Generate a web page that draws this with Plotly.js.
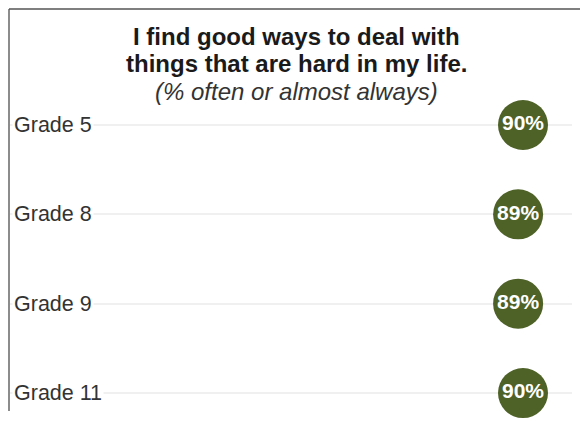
<!DOCTYPE html>
<html>
<head>
<meta charset="utf-8">
<script src="https://cdn.plot.ly/plotly-3.0.1.min.js"></script>
<style>html,body{margin:0;padding:0;background:#fff;}#chart{width:580px;height:421px;}</style>
</head>
<body>
<div id="chart"></div>
<script>
const grades = ["Grade 5", "Grade 8", "Grade 9", "Grade 11"];
const percents = [90, 89, 89, 90];
const titleLines = ["I find good ways to deal with", "things that are hard in my life.", "(% often or almost always)"];

const W = 580, H = 421;
const M = {l: 10, r: 8, t: 105, b: 0};
const plotW = W - M.l - M.r, plotH = H - M.t - M.b;
const px2paperX = px => (px - M.l) / plotW;
const px2paperY = py => (H - M.b - py) / plotH;
const FONT = "Liberation Sans, Arial, sans-serif";

const trace = {
  type: "scatter",
  mode: "markers+text",
  x: percents,
  y: grades,
  texttemplate: "%{x}%",
  textposition: "middle center",
  textfont: {family: FONT, size: 21, color: "#ffffff", weight: "bold"},
  marker: {size: 50, color: "#4e6127", line: {width: 0}},
  cliponaxis: false,
  hoverinfo: "skip"
};

const annotations = grades.map(g => ({
  xref: "paper", yref: "y",
  x: px2paperX(12), y: g,
  xanchor: "left", yanchor: "middle",
  text: g, showarrow: false,
  bgcolor: "#ffffff", borderpad: 1,
  font: {family: FONT, size: 21.5, color: "#333333"}
}));

const titleCenters = [37, 64, 91];
titleLines.forEach((t, i) => {
  annotations.push({
    xref: "paper", yref: "paper",
    x: px2paperX(296), y: px2paperY(titleCenters[i]),
    xanchor: "center", yanchor: "middle",
    text: i < 2 ? "<b>" + t + "</b>" : "<i>" + t + "</i>",
    showarrow: false,
    font: {family: FONT, size: 24, color: i < 2 ? "#1a1a1a" : "#333333"}
  });
});

const layout = {
  width: W, height: H,
  margin: M,
  paper_bgcolor: "#ffffff", plot_bgcolor: "#ffffff",
  showlegend: false,
  xaxis: {range: [-14.69, 100], visible: false, showgrid: false, zeroline: false, fixedrange: true},
  yaxis: {
    type: "category",
    categoryorder: "array", categoryarray: grades,
    range: [3.313, -0.224],
    showticklabels: false, ticks: "",
    showgrid: true, gridcolor: "#f0f0f0", gridwidth: 2,
    zeroline: false, showline: false, fixedrange: true
  },
  annotations: annotations,
  shapes: [
    {type: "line", xref: "paper", yref: "paper", x0: px2paperX(9), x1: px2paperX(9), y0: px2paperY(9), y1: px2paperY(411), line: {color: "#666666", width: 1.5}, layer: "above"},
    {type: "line", xref: "paper", yref: "paper", x0: px2paperX(9), x1: px2paperX(580), y0: px2paperY(9), y1: px2paperY(9), line: {color: "#555555", width: 1.5}, layer: "above"}
  ]
};

Plotly.newPlot("chart", [trace], layout, {displayModeBar: false, staticPlot: true});
</script>
</body>
</html>
